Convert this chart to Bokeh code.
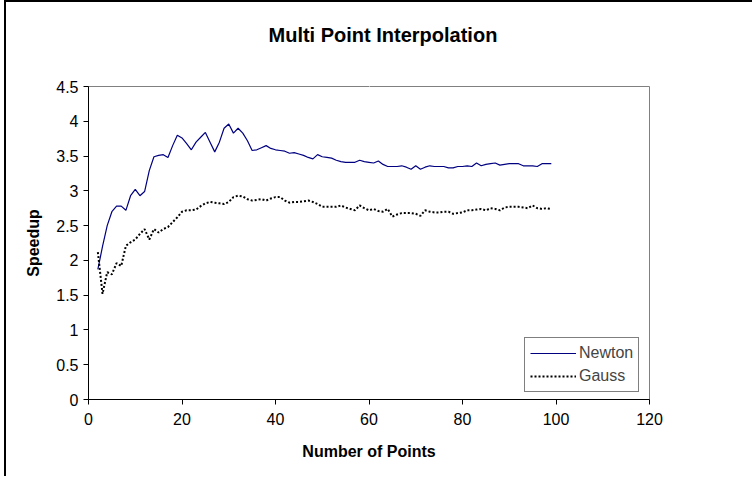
from bokeh.plotting import figure
from bokeh.models import (FixedTicker, CustomJSTickFormatter, Legend, LegendItem,
                          LinearAxis, Range1d, Title)
from bokeh.embed import file_html
from bokeh.resources import INLINE

points = list(range(2, 100))

newton = [1.87, 2.20, 2.50, 2.70, 2.78, 2.78, 2.72, 2.93, 3.02, 2.93,
          2.99, 3.29, 3.49, 3.51, 3.52, 3.48, 3.65, 3.80, 3.76, 3.68,
          3.59, 3.70, 3.77, 3.84, 3.70, 3.56, 3.70, 3.90, 3.96, 3.83,
          3.90, 3.83, 3.72, 3.58, 3.59, 3.62, 3.65, 3.61, 3.59, 3.58,
          3.57, 3.54, 3.55, 3.53, 3.51, 3.48, 3.46, 3.52, 3.49, 3.48,
          3.47, 3.44, 3.42, 3.41, 3.41, 3.41, 3.44, 3.42, 3.41, 3.40,
          3.43, 3.38, 3.35, 3.35, 3.35, 3.36, 3.34, 3.31, 3.36, 3.31,
          3.34, 3.36, 3.35, 3.35, 3.35, 3.33, 3.33, 3.35, 3.35, 3.36,
          3.35, 3.40, 3.36, 3.38, 3.39, 3.40, 3.37, 3.38, 3.39, 3.39,
          3.39, 3.36, 3.36, 3.36, 3.35, 3.39, 3.39, 3.39]

gauss = [2.12, 1.52, 1.83, 1.80, 1.96, 1.92, 2.21, 2.26, 2.30, 2.38,
         2.45, 2.30, 2.45, 2.40, 2.45, 2.48, 2.55, 2.62, 2.70, 2.72,
         2.72, 2.73, 2.78, 2.82, 2.84, 2.83, 2.82, 2.81, 2.84, 2.91,
         2.93, 2.92, 2.88, 2.86, 2.87, 2.88, 2.86, 2.89, 2.91, 2.91,
         2.86, 2.83, 2.84, 2.84, 2.85, 2.86, 2.84, 2.81, 2.77, 2.77,
         2.77, 2.77, 2.79, 2.76, 2.74, 2.72, 2.79, 2.75, 2.72, 2.74,
         2.71, 2.70, 2.74, 2.63, 2.66, 2.68, 2.68, 2.68, 2.67, 2.64,
         2.72, 2.70, 2.69, 2.69, 2.70, 2.70, 2.67, 2.68, 2.69, 2.72,
         2.72, 2.73, 2.74, 2.72, 2.75, 2.74, 2.72, 2.76, 2.77, 2.77,
         2.77, 2.76, 2.75, 2.79, 2.75, 2.74, 2.75, 2.74]

x_ticks = [0, 20, 40, 60, 80, 100, 120]
y_ticks = [0, 0.5, 1, 1.5, 2, 2.5, 3, 3.5, 4, 4.5]
title_text = "Multi Point Interpolation"

FONT = "Liberation Sans"
W, H = 748, 476

p = figure(width=W, height=H, output_backend="svg", toolbar_location=None,
           x_range=Range1d(0, 120), y_range=Range1d(0, 4.5),
           min_border_left=82, min_border_right=105, min_border_top=84,
           min_border_bottom=79, margin=(0, 0, 0, 4),
           styles={"border-left": "2px solid black",
                   "border-top": "2px solid black"})

p.background_fill_color = "white"
p.border_fill_color = "white"
p.outline_line_color = "#808080"
p.outline_line_width = 1
p.xgrid.visible = False
p.ygrid.visible = False

r1 = p.line(points, newton, line_color="#000080", line_width=1.2)
r2 = p.line(points, gauss, line_color="black", line_width=2, line_dash="2 2")

fmt = CustomJSTickFormatter(code="return String(tick);")
for ax, ticks in ((p.xaxis[0], x_ticks), (p.yaxis[0], y_ticks)):
    ax.ticker = FixedTicker(ticks=ticks)
    ax.formatter = fmt
    ax.minor_tick_line_color = None
    ax.major_tick_in = 0
    ax.major_tick_out = 5
    ax.axis_line_color = "black"
    ax.major_tick_line_color = "black"
    ax.major_label_text_font = FONT
    ax.major_label_text_font_size = "16px"
    ax.major_label_text_color = "black"
    ax.axis_label_text_font = FONT
    ax.axis_label_text_font_size = "16px"
    ax.axis_label_text_font_style = "bold"
    ax.axis_label_text_color = "black"

p.xaxis.axis_label = "Number of Points"
p.yaxis.axis_label = "Speedup"
p.xaxis.major_label_standoff = 8
p.yaxis.major_label_standoff = 5
p.xaxis.axis_label_standoff = 15
p.yaxis.axis_label_standoff = 11

# blank spacer between the plot area and the chart title (first = nearest)
spacer = LinearAxis(ticker=FixedTicker(ticks=[60]), axis_line_color=None,
                    major_tick_line_color="white", minor_tick_line_color=None,
                    major_tick_out=36, major_tick_in=0,
                    major_label_standoff=0,
                    formatter=CustomJSTickFormatter(code="return '';"),
                    major_label_text_font_size="1px",
                    major_label_text_alpha=0)
p.add_layout(spacer, "above")

title = Title(text=title_text, align="left", offset=180, standoff=10,
              vertical_align="bottom", text_font=FONT, text_font_size="20px",
              text_font_style="bold", text_color="black")
p.add_layout(title, "above")

legend = Legend(items=[LegendItem(label="Newton", renderers=[r1]),
                       LegendItem(label="Gauss", renderers=[r2])],
                location=(436, 7), margin=0, padding=5, spacing=3,
                glyph_width=46, glyph_height=20, label_height=20,
                label_standoff=3,
                label_text_font=FONT, label_text_font_size="16px",
                border_line_color="black", border_line_width=1,
                background_fill_alpha=1)
p.add_layout(legend, "center")

open("out.html", "w").write(file_html(p, INLINE))
